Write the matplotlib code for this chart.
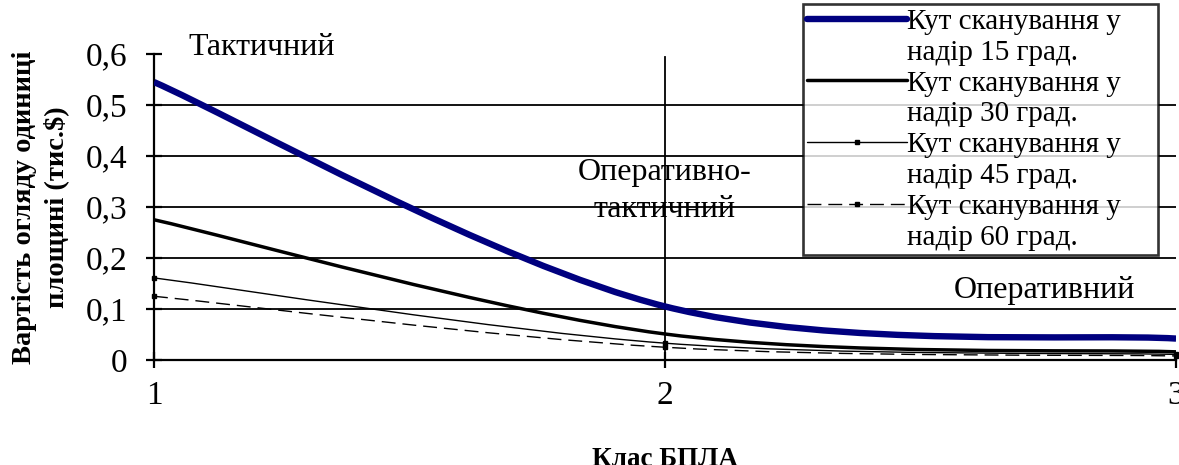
import matplotlib
matplotlib.use("Agg")
import matplotlib.pyplot as plt
from matplotlib.path import Path
from matplotlib.patches import PathPatch
from matplotlib.lines import Line2D
from matplotlib.ticker import FuncFormatter

# ---- data ----
classes = [1, 2, 3]
cost_15 = [0.545, 0.105, 0.042]
cost_30 = [0.275, 0.051, 0.016]
cost_45 = [0.161, 0.033, 0.011]
cost_60 = [0.125, 0.025, 0.008]
series_names = ["Кут сканування у\nнадір 15 град.",
                "Кут сканування у\nнадір 30 град.",
                "Кут сканування у\nнадір 45 град.",
                "Кут сканування у\nнадір 60 град."]
y_ticks = [0, 0.1, 0.2, 0.3, 0.4, 0.5, 0.6]
x_ticks = [1, 2, 3]
region_labels = ["Тактичний", "Оперативно-\nтактичний", "Оперативний"]

FONT = "Liberation Serif"
plt.rcParams["font.family"] = [FONT, "DejaVu Serif"]


def smooth_path(xs, ys):
    """Excel-style smoothed line: cubic Bezier through the points."""
    pts = list(zip(xs, ys))
    n = len(pts)
    verts = [pts[0]]
    codes = [Path.MOVETO]
    for i in range(n - 1):
        p0 = pts[i - 1] if i > 0 else pts[i]
        p1 = pts[i]
        p2 = pts[i + 1]
        p3 = pts[i + 2] if i + 2 < n else pts[i + 1]
        c1 = (p1[0] + (p2[0] - p0[0]) / 6, p1[1] + (p2[1] - p0[1]) / 6)
        c2 = (p2[0] - (p3[0] - p1[0]) / 6, p2[1] - (p3[1] - p1[1]) / 6)
        verts += [c1, c2, p2]
        codes += [Path.CURVE4] * 3
    return Path(verts, codes)


fig = plt.figure(figsize=(11.79, 4.65), dpi=100)
ax = fig.add_axes([0.1306, 0.2258, 0.8669, 0.6581])
ax.set_xlim(1, 3)
ax.set_ylim(0, 0.6)

# grid lines
for yv in y_ticks[1:-1]:
    ax.axhline(yv, color="black", lw=1.3, zorder=1)
ax.axvline(2, ymax=0.99, color="black", lw=1.3, zorder=1)

styles = [
    dict(color="#00007f", lw=4.6, ls="-", marker=None),
    dict(color="black", lw=2.5, ls="-", marker=None),
    dict(color="black", lw=1.0, ls="-", marker="s"),
    dict(color="black", lw=1.0, ls=(0, (10, 5)), marker="s"),
]
data = [cost_15, cost_30, cost_45, cost_60]
handles = []
for vals, st in zip(data, styles):
    patch = PathPatch(smooth_path(classes, vals), facecolor="none",
                      edgecolor=st["color"], lw=st["lw"], linestyle=st["ls"],
                      capstyle="butt", zorder=3)
    ax.add_patch(patch)
    if st["marker"]:
        ax.plot(classes, vals, ls="none", marker=st["marker"], ms=3.5,
                color=st["color"], zorder=4, clip_on=False)
    handles.append(Line2D([], [], color=st["color"], lw=st["lw"],
                          ls=st["ls"], marker=st["marker"], ms=3.5,
                          solid_capstyle="round"))

# spines / ticks
for s in ["top", "right"]:
    ax.spines[s].set_visible(False)
ax.spines["left"].set_linewidth(1.6)
ax.spines["bottom"].set_linewidth(1.6)
ax.set_yticks(y_ticks)
ax.set_xticks(x_ticks)
ax.yaxis.set_major_formatter(FuncFormatter(
    lambda v, p: "0" if abs(v) < 1e-9 else f"{v:.1f}".replace(".", ",")))
ax.xaxis.set_major_formatter(FuncFormatter(lambda v, p: f"{int(round(v))}"))
ax.tick_params(axis="y", direction="inout", length=12, width=1.6,
               labelsize=24, pad=13)
ax.tick_params(axis="x", direction="inout", length=12, width=1.6,
               labelsize=24, pad=9)

ax.set_ylabel("Вартість огляду одиниці\nплощині (тис.$)", fontsize=20.5,
              fontweight="bold", labelpad=12, linespacing=1.3)
ax.set_xlabel("Клас БПЛА", fontsize=19.5, fontweight="bold", labelpad=26)

# region labels
ax.text(1.0665, 0.598, region_labels[0], fontsize=23, ha="left",
        va="baseline")
ax.text(2.0, 0.331, region_labels[1], fontsize=23, ha="center", va="center",
        linespacing=1.35)
ax.text(2.92, 0.121, region_labels[2], fontsize=23, ha="right",
        va="baseline")

# legend: handle aligned with first line of each label
leg_handles, leg_labels = [], []
for h, name in zip(handles, series_names):
    first, second = name.split("\n")
    leg_handles += [h, Line2D([], [], color="none")]
    leg_labels += [first, second]
leg = ax.legend(leg_handles, leg_labels, loc="lower left",
                bbox_to_anchor=(0.635, 0.343, 0.347, 0.8), mode="expand",
                fontsize=21, frameon=True,
                fancybox=False, edgecolor="black", handlelength=3.4,
                handletextpad=0.0, labelspacing=0.15, borderpad=0.15,
                borderaxespad=0)
leg.get_frame().set_linewidth(1.9)
leg.set_zorder(5)

fig.savefig("out.png", dpi=100)
